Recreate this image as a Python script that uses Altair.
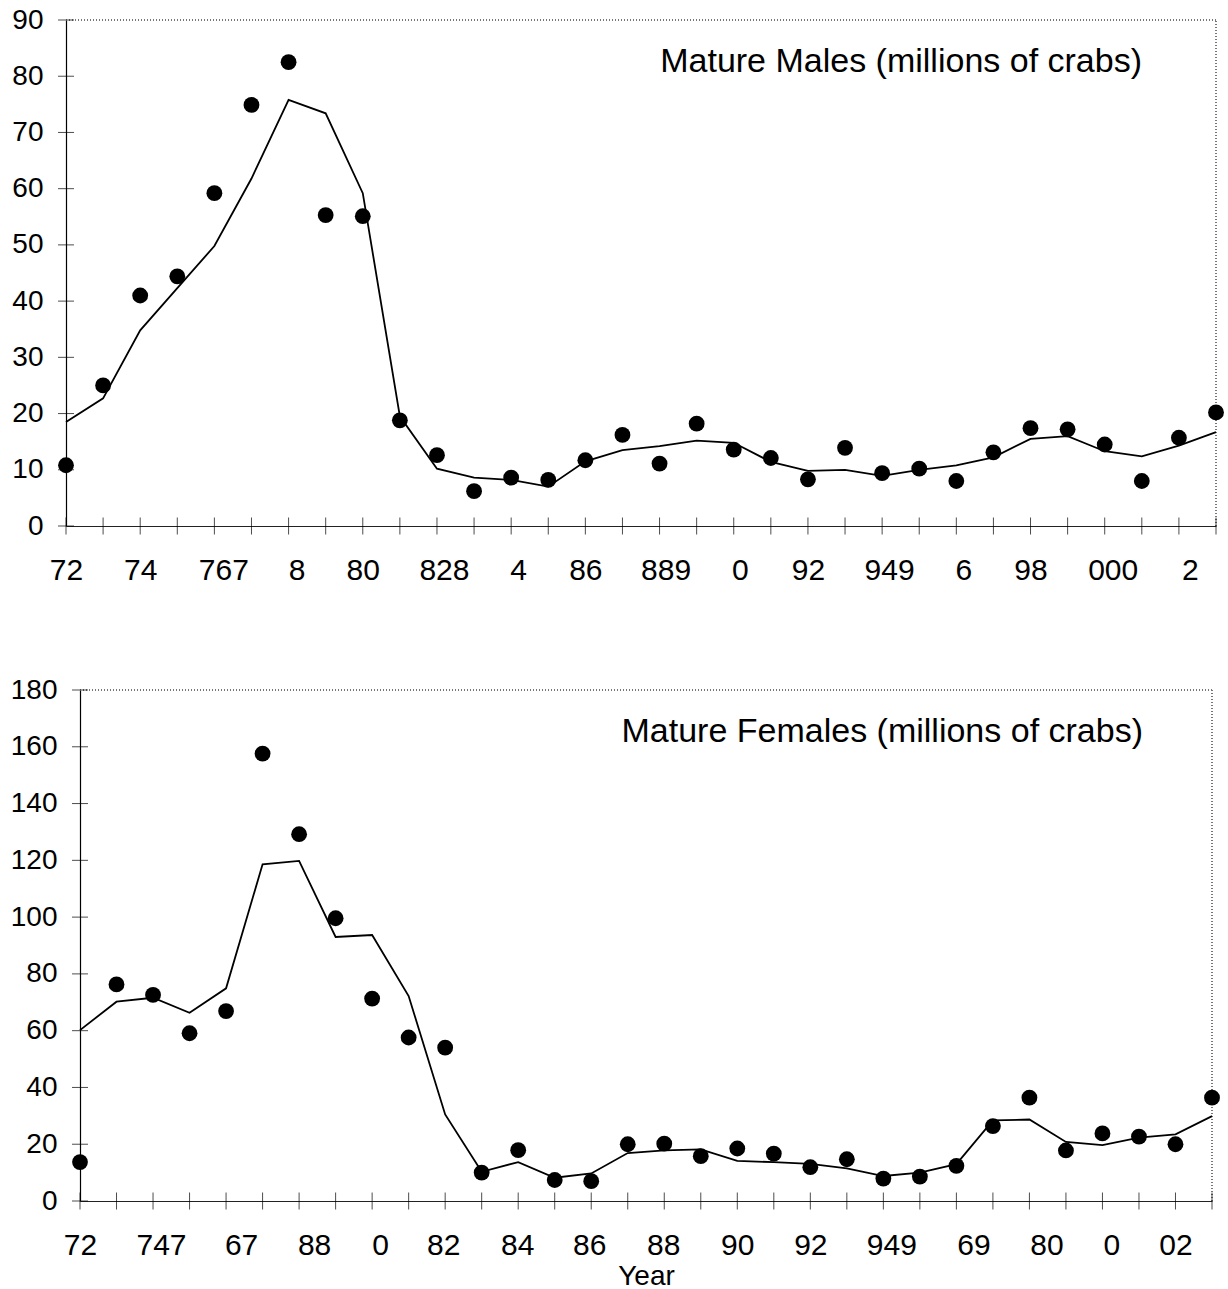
import altair as alt
import pandas as pd

# Survey years
years = list(range(1972, 2004))

# Mature males (millions of crabs): survey estimates (dots) and model fit (line)
male_obs = [10.8, 25.0, 41.0, 44.4, 59.2, 74.9, 82.5, 55.3, 55.1, 18.8,
            12.6, 6.2, 8.6, 8.2, 11.7, 16.2, 11.1, 18.2, 13.6, 12.1,
            8.3, 13.9, 9.4, 10.2, 8.0, 13.1, 17.4, 17.2, 14.5, 8.0,
            15.7, 20.2]
male_fit = [18.5, 22.7, 34.8, 42.3, 49.8, 61.8, 75.8, 73.4, 59.2, 19.5,
            10.2, 8.6, 8.2, 7.0, 11.5, 13.5, 14.2, 15.2, 14.8, 11.4,
            9.8, 10.0, 8.9, 10.0, 10.8, 12.2, 15.5, 16.0, 13.3, 12.4,
            14.3, 16.7]

# Mature females (millions of crabs)
female_obs = [13.7, 76.3, 72.6, 59.1, 66.9, 157.6, 129.2, 99.6, 71.3, 57.6,
              54.0, 10.0, 17.9, 7.4, 7.0, 20.0, 20.2, 15.8, 18.5, 16.7,
              11.9, 14.7, 7.9, 8.6, 12.4, 26.4, 36.4, 17.8, 23.8, 22.7,
              20.0, 36.4]
female_fit = [60.2, 70.2, 71.6, 66.3, 74.9, 118.6, 119.8, 93.0, 93.7, 72.2,
              30.5, 10.3, 13.7, 8.2, 9.7, 16.9, 17.8, 18.2, 14.1, 13.7,
              13.1, 11.5, 8.8, 10.0, 13.0, 28.4, 28.7, 20.8, 19.7, 22.3,
              23.5, 29.9]

male_y_ticks = list(range(0, 91, 10))
female_y_ticks = list(range(0, 181, 20))

# Year-axis labels as printed (every second year)
label_years = list(range(1972, 2003, 2))
male_year_text = ["72", "74", "767", "8", "80", "828", "4", "86",
                  "889", "0", "92", "949", "6", "98", "000", "2"]
female_year_text = ["72", "747", "67", "88", "0", "82", "84", "86",
                    "88", "90", "92", "949", "69", "80", "0", "02"]

# Horizontal nudges (px) of individual year labels
male_label_shift = {1976: 9, 1978: 8, 1982: 7, 1984: 7, 1988: 6,
                    1990: 6, 1994: 7, 1996: 7, 2000: 8, 2002: 11}
female_label_shift = {1974: 8, 1976: 15, 1978: 15, 1980: 8, 1982: -2,
                      1984: -1, 1986: -2, 1988: -1, 1994: 8, 1996: 17,
                      1998: 17, 2000: 9}

FONT = "Liberation Sans"


def label_expr(texts):
    expr = "''"
    for yr, txt in reversed(list(zip(label_years, texts))):
        expr = f"datum.value == {yr} ? '{txt}' : ({expr})"
    return expr


def label_shift(shifts):
    return {
        "condition": [{"test": f"datum.value == {yr}", "value": px}
                      for yr, px in shifts.items()],
        "value": 0,
    }


def panel(obs, fit, y_max, y_ticks, texts, shifts, title, width, height,
          inset, title_right, x_title):
    """One panel; `inset` moves the y axis (and the data) right of the
    panel's left edge."""
    df = pd.DataFrame({"year": years, "obs": obs, "fit": fit})
    tick_df = pd.DataFrame({"v": y_ticks})

    x_scale = alt.Scale(domain=[1972, 2003], nice=False, zero=False,
                        range=[inset, width])
    y_scale = alt.Scale(domain=[0, y_max], nice=False, zero=True)

    x_axis = alt.Axis(
        values=years, labelExpr=label_expr(texts),
        labelOffset=label_shift(shifts),
        ticks=False, tickSize=0, grid=False,
        labelFlush=False, labelOverlap=False, labelPadding=29,
        labelFont=FONT, labelFontSize=30, labelColor="black",
        domainColor="#222", domainWidth=1.2,
        title=x_title, titleFont=FONT, titleFontSize=28,
        titleFontWeight="normal", titleColor="black", titlePadding=2,
    )
    y_axis = alt.Axis(
        values=y_ticks, ticks=False, tickSize=0, grid=False,
        labelFlush=False, labelOverlap=False, labelPadding=23,
        labelFont=FONT, labelFontSize=28, labelColor="black",
        domainColor="black", domainWidth=1.2, title=None,
        offset=-inset,
    )

    base = alt.Chart(df)

    # crossing tick marks on both axes
    x_ticks = base.mark_tick(orient="vertical", size=17, thickness=1,
                             color="black").encode(
        x=alt.X("year:Q", scale=x_scale, axis=x_axis),
        y=alt.Y(datum=0, scale=y_scale, axis=y_axis),
    )
    y_tick_marks = alt.Chart(tick_df).mark_tick(
        orient="horizontal", size=16, thickness=1, color="black").encode(
        x=alt.X(datum=1972),
        y=alt.Y("v:Q"),
    )

    # dotted frame along the top and right of the plot
    frame_style = dict(color="#777", strokeDash=[1, 2], strokeWidth=1)
    frame_top = base.mark_rule(**frame_style).encode(
        x=alt.X(datum=1972), x2=alt.X2(datum=2003), y=alt.Y(datum=y_max))
    frame_right = base.mark_rule(**frame_style).encode(
        x=alt.X(datum=2003), y=alt.Y(datum=0), y2=alt.Y2(datum=y_max))

    line = base.mark_line(color="black", strokeWidth=1.8).encode(
        x="year:Q", y="fit:Q")
    dots = base.mark_circle(size=250, color="black", opacity=1).encode(
        x="year:Q", y="obs:Q")

    # panel caption in the upper right of the plot area
    caption = alt.Chart(pd.DataFrame({"t": [title]})).mark_text(
        align="right", baseline="middle", font=FONT, fontSize=34,
        color="black",
    ).encode(
        text="t:N",
        x=alt.value(title_right),
        y=alt.value(42),
    )

    return alt.layer(frame_top, frame_right, x_ticks, y_tick_marks, line,
                     dots, caption).properties(width=width, height=height)


top = panel(male_obs, male_fit, 90, male_y_ticks, male_year_text,
            male_label_shift, "Mature Males (millions of crabs)",
            1150, 506, 0, 1076, None)
bottom = panel(female_obs, female_fit, 180, female_y_ticks,
               female_year_text, female_label_shift,
               "Mature Females (millions of crabs)",
               1146, 511, 14, 1077, "Year")

chart = alt.concat(top, bottom, columns=1, spacing=91
).configure_view(
    strokeWidth=0,
).properties(
    padding={"left": 10, "top": 6, "right": 0, "bottom": 0},
    background="white",
)

chart.save("out.html", embed_options={"renderer": "svg", "actions": False})
